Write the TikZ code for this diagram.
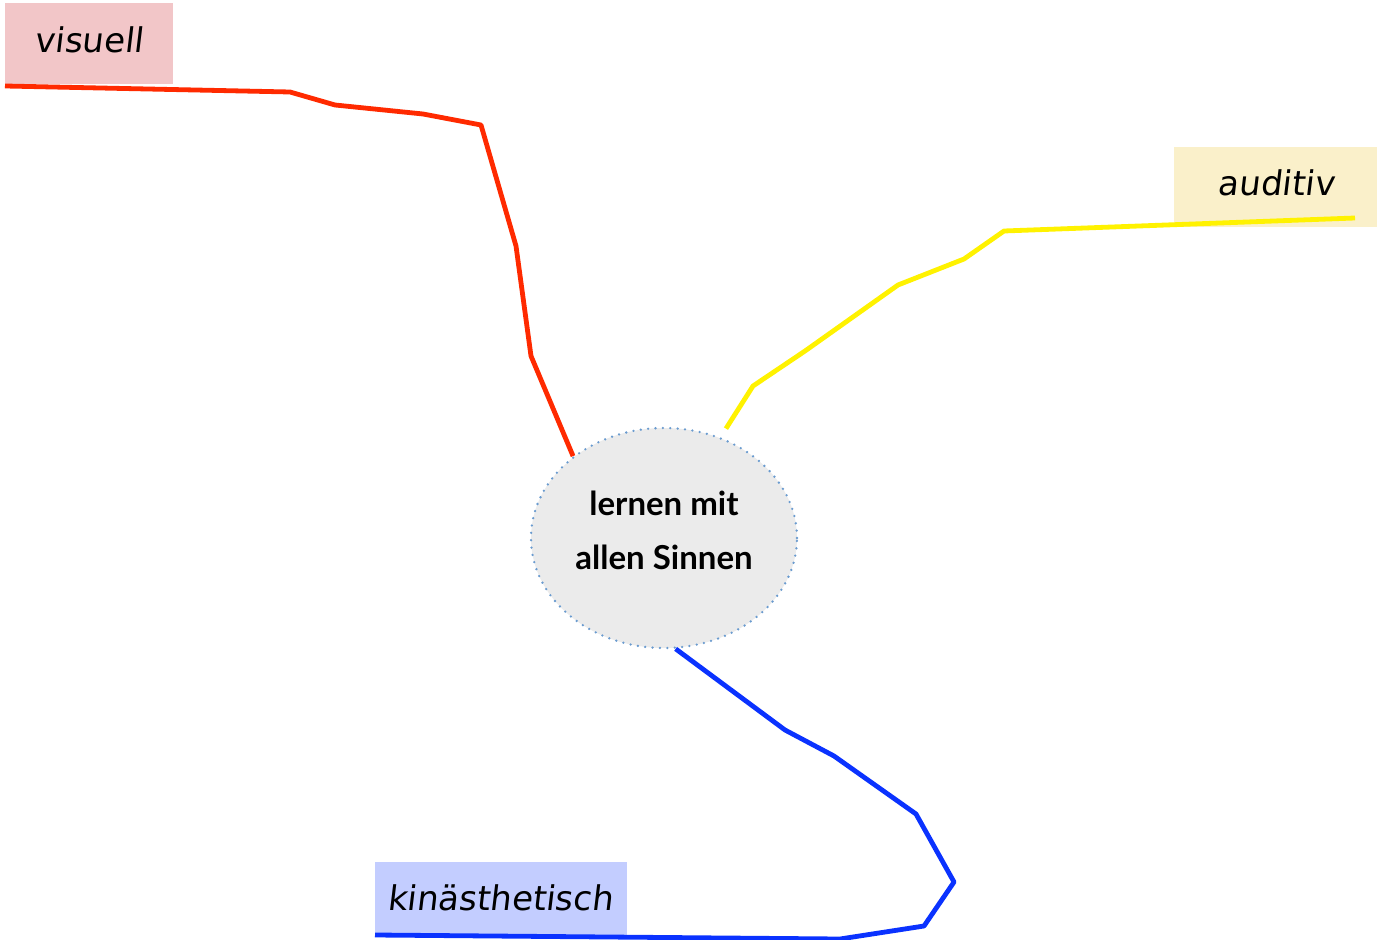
\documentclass[tikz,border=0pt]{standalone}
\usepackage{fontspec}
\usetikzlibrary{shapes.geometric}
\setmainfont{Lato}
\newfontfamily\handfont{DejaVu Sans}[FakeSlant=0.12]
\definecolor{visbg}{HTML}{F2C6C8}
\definecolor{audbg}{HTML}{FAF0CA}
\definecolor{kinbg}{HTML}{C3CDFF}
\definecolor{visline}{HTML}{FF2A00}
\definecolor{audline}{HTML}{FFF200}
\definecolor{kinline}{HTML}{0A32FF}
\definecolor{hubfill}{HTML}{EBEBEB}
\definecolor{hubdot}{HTML}{6A9BCF}
\tikzset{
  topic/.style={inner sep=0pt, font=\handfont\fontsize{17}{20}\selectfont},
  branch/.style={line width=2.4pt, line join=round},
  hub/.style={ellipse, fill=hubfill, draw=hubdot, line width=1.3pt,
    dash pattern=on 0pt off 3.7pt, line cap=round,
    minimum width=133pt, minimum height=110pt, inner sep=0pt},
  hubtext/.style={align=center, inner sep=0pt,
    font=\bfseries\fontsize{16.5}{27}\selectfont}
}
\begin{document}
\begin{tikzpicture}[x=0.5pt, y=-0.5pt]
\useasboundingbox (0,0) rectangle (1385,940);

% label boxes
\fill[visbg] (5,3) rectangle (173,84);
\fill[audbg] (1174,147) rectangle (1377,227);
\fill[kinbg] (375,862) rectangle (627,935);

% central topic
\node[hub] (ctr) at (664,538) {};
\node[hubtext] (ctrtext) at (664,530) {lernen mit\\allen Sinnen};

% branch ends at the labels
\coordinate (visend) at (5,86);
\coordinate (audend) at (1355,218);
\coordinate (kinend) at (375,935);

% visual branch
\draw[branch, visline] (ctr.138) -- (531,356) -- (516,246) -- (494,170)
  -- (481,125) -- (423,114) -- (335,105) -- (290,92) -- (visend);
% auditory branch
\draw[branch, audline] ([shift={(4,-9)}]ctr.60) -- (753,386) -- (805,351) -- (898,285)
  -- (964,259) -- (1004,231) -- (audend);
% kinaesthetic branch
\draw[branch, kinline] (ctr.-84) -- (785,730) -- (834,756) -- (916,814)
  -- (954,882) -- (924,926) -- (840,939) -- (kinend);

% labels
\node[topic] (vis) at (89,40) {visuell};
\node[topic] (aud) at (1276,183) {auditiv};
\node[topic] (kin) at (500,898) {kinästhetisch};
\end{tikzpicture}
\end{document}
